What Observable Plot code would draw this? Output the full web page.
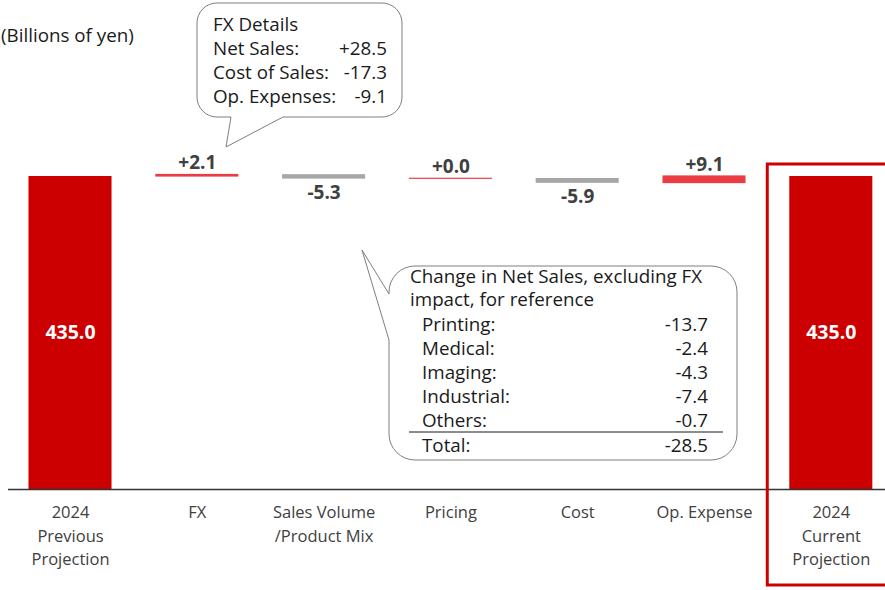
<!DOCTYPE html>
<html><head><meta charset="utf-8">
<script src="https://cdn.jsdelivr.net/npm/d3@7"></script>
<script src="https://cdn.jsdelivr.net/npm/@observablehq/plot@0.6"></script>
<style>
html,body{margin:0;padding:0;background:#fff;}
#chart{position:relative;width:885px;height:590px;overflow:hidden;}
</style></head><body><div id="chart"></div>
<script>
// ---- data ----
const categories = ["2024\nPrevious\nProjection", "FX", "Sales Volume\n/Product Mix", "Pricing", "Cost", "Op. Expense", "2024\nCurrent\nProjection"];
const startValue = 435.0;
const endValue = 435.0;
const deltas = [2.1, -5.3, 0.0, -5.9, 9.1];
const deltaLabels = ["+2.1", "-5.3", "+0.0", "-5.9", "+9.1"];
const totalLabels = ["435.0", "435.0"];
const unitLabel = "(Billions of yen)";
const fxTitle = "FX Details";
const fxItems = ["Net Sales:", "Cost of Sales:", "Op. Expenses:"];
const fxValues = ["+28.5", "-17.3", "-9.1"];
const segTitle = ["Change in Net Sales, excluding FX", "impact, for reference"];
const segItems = ["Printing:", "Medical:", "Imaging:", "Industrial:", "Others:"];
const segValues = ["-13.7", "-2.4", "-4.3", "-7.4", "-0.7"];
const segTotalLabel = "Total:";
const segTotalValue = "-28.5";

// ---- derived tables ----
const totals = [
  {cat: categories[0], value: startValue, label: totalLabels[0]},
  {cat: categories[6], value: endValue, label: totalLabels[1]}
];
let run = startValue;
const steps = deltas.map((d, i) => {
  const from = run; run = run + d;
  return {cat: categories[i + 1], from, to: run, delta: d, label: deltaLabels[i],
          top: Math.max(from, run), bottom: Math.min(from, run)};
});
const pos = steps.filter(d => d.delta >= 0);
const neg = steps.filter(d => d.delta < 0);

const FONT = "'Open Sans', 'Noto Sans', sans-serif";
const RED = "#cc0000";
const TXT = "#404040";
const INK = "#1a1a1a";
const CFS = 18.8;

// callout annotation mark (drawn in pixel space)
function callouts(index, scales, values, dimensions) {
  const g = d3.create("svg:g").attr("font-family", FONT).attr("text-anchor", "start");
  function bubble(path) {
    g.append("path").attr("d", path).attr("fill", "#fff").attr("stroke", "#7f7f7f").attr("stroke-width", 1);
  }
  function txt(x, y, s, anchor) {
    g.append("text").attr("x", x).attr("y", y).attr("dy", "0.35em").attr("font-size", CFS)
      .attr("text-anchor", anchor || "start").attr("fill", INK).text(s);
  }
  // top callout
  {
    const x0 = 197, y0 = 3, x1 = 402, y1 = 117, r = 20;
    bubble(`M${x0 + r},${y0}H${x1 - r}A${r},${r} 0 0 1 ${x1},${y0 + r}V${y1 - r}A${r},${r} 0 0 1 ${x1 - r},${y1}H283L226,147L231,${y1}H${x0 + r}A${r},${r} 0 0 1 ${x0},${y1 - r}V${y0 + r}A${r},${r} 0 0 1 ${x0 + r},${y0}Z`);
    txt(213, 24, fxTitle);
    fxItems.forEach((t, i) => {
      const y = 48 + i * 24.3;
      txt(213, y, t);
      txt(387, y, fxValues[i], "end");
    });
  }
  // lower callout
  {
    const x0 = 389, y0 = 266, x1 = 737, y1 = 460, r = 26;
    bubble(`M${x0 + r},${y0}H${x1 - r}A${r},${r} 0 0 1 ${x1},${y0 + r}V${y1 - r}A${r},${r} 0 0 1 ${x1 - r},${y1}H${x0 + r}A${r},${r} 0 0 1 ${x0},${y1 - r}V340L362,250L${x0},294V${y0 + r}A${r},${r} 0 0 1 ${x0 + r},${y0}Z`);
    segTitle.forEach((t, i) => txt(410, 276 + i * 23.5, t));
    segItems.forEach((t, i) => {
      const y = 324 + i * 24;
      txt(422, y, t);
      txt(708, y, segValues[i], "end");
    });
    g.append("line").attr("x1", 409).attr("x2", 723).attr("y1", 432).attr("y2", 432).attr("stroke", INK).attr("stroke-width", 1);
    txt(422, 445, segTotalLabel);
    txt(708, 445, segTotalValue, "end");
  }
  // unit label
  txt(1, 35, unitLabel);
  return g.node();
}

const plot = Plot.plot({
  width: 885,
  height: 590,
  marginLeft: 8, marginRight: 0, marginTop: 0, marginBottom: 0,
  style: {fontFamily: FONT, background: "#fff", overflow: "visible"},
  x: {domain: categories, range: [6.6, 894.2], paddingInner: 0.345, paddingOuter: 0.1725, round: false, axis: null},
  y: {domain: [0, 435], range: [489, 176], axis: null},
  marks: [
    Plot.barY(totals, {x: "cat", y: "value", fill: RED}),
    Plot.text(totals, {x: "cat", y: d => d.value / 2, text: "label", fill: "#fff", fontWeight: "bold", fontSize: 19.5}),
    Plot.barY(pos, {x: "cat", y1: "from", y2: "to", fill: "#ec3c43", insetTop: -0.6, insetBottom: -0.6}),
    Plot.barY(neg, {x: "cat", y1: "from", y2: "to", fill: "#a6a6a6", insetTop: -0.3, insetBottom: -0.3}),
    Plot.text(pos, {x: "cat", y: "top", text: "label", dy: -12, fill: TXT, fontWeight: "bold", fontSize: 19}),
    Plot.text(neg, {x: "cat", y: "bottom", text: "label", dy: 14, fill: TXT, fontWeight: "bold", fontSize: 19}),
    Plot.ruleY([0], {stroke: "#333", strokeWidth: 1.3}),
    Plot.text(categories, {x: d => d, y: 0, text: d => d, dy: 12, lineAnchor: "top", lineHeight: 1.43, fontSize: 16.5, fill: TXT}),
    Plot.barY([categories[6]], {x: d => d, y1: 0, y2: endValue, fill: "none", stroke: RED, strokeWidth: 3,
      insetTop: -12, insetBottom: -96, insetLeft: -22, insetRight: -22}),
    callouts
  ]
});
document.getElementById("chart").appendChild(plot);
</script>
</body></html>
